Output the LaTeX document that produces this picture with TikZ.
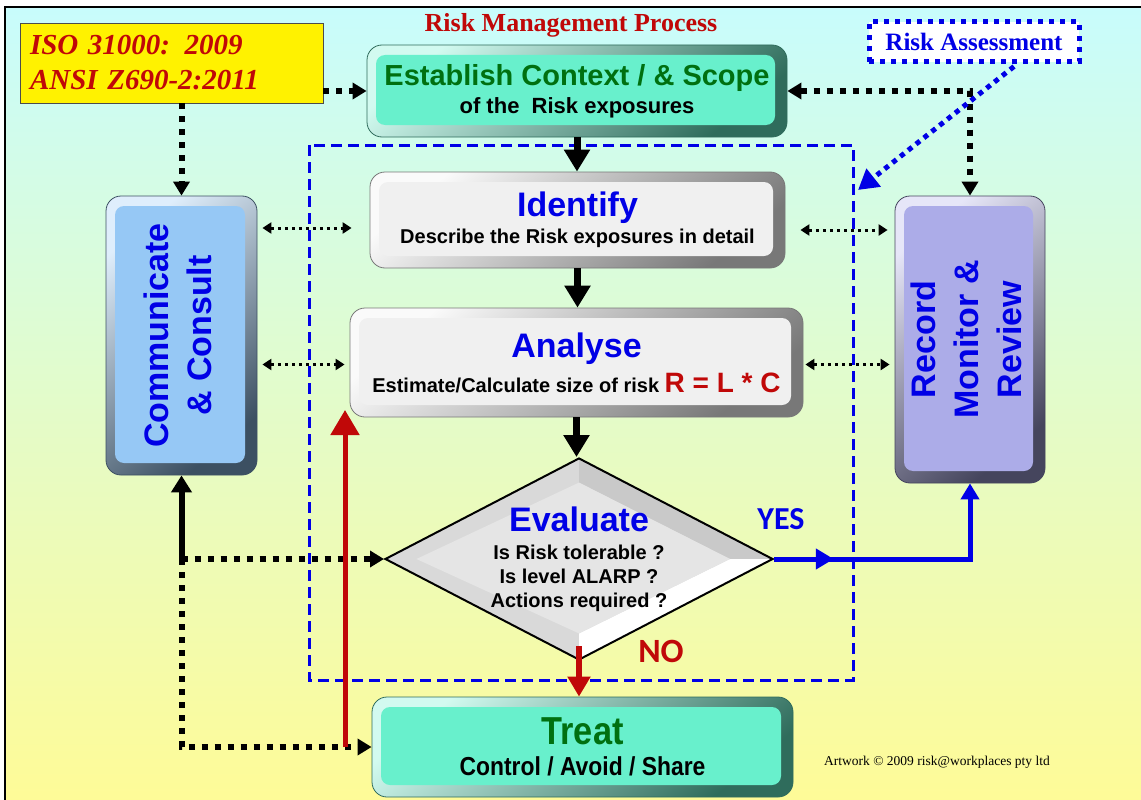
\documentclass[tikz,border=0pt]{standalone}
\usepackage{fontspec}
\setmainfont{Liberation Serif}
\setsansfont{Liberation Sans}
\newfontfamily\narrowsans[FakeStretch=0.88]{Liberation Sans}
\newfontfamily\calibrisans{Carlito}
\usetikzlibrary{shapes.geometric,arrows.meta,calc,decorations.markings}

\definecolor{bgcyan}{RGB}{200,252,252}
\definecolor{bgyellow}{RGB}{255,251,150}
\definecolor{riskred}{RGB}{192,8,8}
\definecolor{riskgreen}{RGB}{0,112,16}
\definecolor{riskblue}{RGB}{0,0,230}
\definecolor{tealface}{RGB}{104,240,204}
\definecolor{commface}{RGB}{150,200,245}
\definecolor{recface}{RGB}{172,172,232}
\definecolor{silverface}{RGB}{240,240,240}
\definecolor{silverrim}{RGB}{120,120,120}

\tikzset{
  bigtip/.tip={Triangle[width=16pt,length=14pt]},
  tinytip/.tip={Triangle[width=11pt,length=9pt]},
}

\begin{document}
\begin{tikzpicture}[x=1pt,y=-1pt,
    panel/.style 2 args={rounded corners=15pt, draw=#2, line width=0.8pt,
      top color=#1!30!white, bottom color=#2, shading angle=40,
      inner sep=0pt, align=center,
      path picture={\fill[#1, rounded corners=9pt]
        ([shift={(9pt,-10pt)}]path picture bounding box.north west) rectangle
        ([shift={(-12pt,12pt)}]path picture bounding box.south east);}},
    isobox/.style={draw=black!70, fill=yellow, minimum width=303pt, minimum height=80pt,
      text width=283pt, align=left, inner sep=0pt, text=riskred,
      font=\bfseries\itshape\fontsize{29}{35}\selectfont},
    evalbox/.style={diamond, aspect=1.92, draw=black, line width=2pt, fill=gray!30,
      minimum width=388pt, minimum height=202pt, inner sep=0pt, align=center,
      path picture={
        \coordinate (pn) at ($(path picture bounding box.center)!0.76!(path picture bounding box.north)$);
        \coordinate (pe) at ($(path picture bounding box.center)!0.78!(path picture bounding box.east)$);
        \coordinate (ps) at ($(path picture bounding box.center)!0.74!(path picture bounding box.south)$);
        \coordinate (pw) at ($(path picture bounding box.center)!0.84!(path picture bounding box.west)$);
        \fill[gray!42] (path picture bounding box.north) -- (path picture bounding box.east) -- (pe) -- (pn) -- cycle;
        \fill[white] (path picture bounding box.east) -- (path picture bounding box.south) -- (ps) -- (pe) -- cycle;
        \fill[gray!20] (pn) -- (pe) -- (ps) -- (pw) -- cycle;}},
    flow/.style={line width=7pt, -{Triangle[width=25pt,length=22pt]}},
    bigdots/.style={line width=6pt, dash pattern=on 6pt off 7pt, -bigtip},
    smalldots/.style={line width=3pt, dash pattern=on 3pt off 4pt, tinytip-tinytip},
    noflow/.style={draw=riskred, line width=6pt, -{Triangle[width=22pt,length=20pt]}},
    redflow/.style={draw=riskred, line width=5pt, -{Triangle[width=28pt,length=25pt]}},
    yesflow/.style={draw=riskblue, line width=5pt, -{Triangle[width=18pt,length=16pt]},
      postaction={decorate}, decoration={markings,
        mark=at position 0.22 with {\arrow[riskblue]{Triangle[width=20pt,length=18pt]}}}},
    assessarrow/.style={draw=riskblue, line width=5pt, dash pattern=on 5pt off 5pt,
      -{Triangle[width=22pt,length=20pt]}},
    zone/.style={draw=riskblue, line width=3pt, dash pattern=on 11pt off 6pt},
]
\useasboundingbox (0,0) rectangle (1141,800);
\shadedraw[top color=bgcyan, bottom color=bgyellow, draw=black, line width=2pt] (5,7) rectangle (1150,810);

% risk assessment frame
\draw[zone] (309,145) rectangle (853,680);

\node[isobox] (iso) at (171.5,63) {ISO 31000: 2009\\ANSI Z690-2:2011};
\node[text=riskred, font=\bfseries\fontsize{26}{30}\selectfont] (title) at (571,25) {Risk Management Process};
\node[draw=riskblue, fill=white, line width=5pt, dash pattern=on 5pt off 6pt,
      minimum width=210pt, minimum height=40pt, text=riskblue,
      font=\bfseries\fontsize{25}{28}\selectfont] (assess) at (974,42) {Risk Assessment};

\node[panel={tealface}{tealface!45!black}, minimum width=420pt, minimum height=92pt,
      font=\sffamily\bfseries\fontsize{22}{28}\selectfont] (ctx) at (577,91)
  {{\color{riskgreen}\fontsize{29}{29}\selectfont Establish Context / \& Scope}\\of the\ \ Risk exposures};
\node[panel={silverface}{silverrim}, minimum width=415pt, minimum height=96pt,
      font=\sffamily\bfseries\fontsize{20}{27}\selectfont] (ident) at (577.5,220)
  {{\color{riskblue}\fontsize{34}{34}\selectfont Identify}\\Describe the Risk exposures in detail};
\node[panel={silverface}{silverrim}, minimum width=453pt, minimum height=109pt,
      font=\sffamily\bfseries\fontsize{20}{35}\selectfont] (anal) at (576.5,362.5)
  {{\color{riskblue}\fontsize{34}{34}\selectfont Analyse}\\Estimate/Calculate size of risk {\color{riskred}\fontsize{28}{28}\selectfont R = L * C}};
\node[evalbox, font=\sffamily\bfseries\fontsize{20}{24}\selectfont] (eval) at (579,559)
  {{\color{riskblue}\fontsize{34}{34}\selectfont Evaluate}\\[4pt]Is Risk tolerable ?\\Is level ALARP ?\\Actions required ?};
\node[panel={tealface}{tealface!45!black}, minimum width=421pt, minimum height=100pt,
      font=\narrowsans\bfseries\fontsize{26}{31}\selectfont] (treat) at (582.5,747)
  {{\color{riskgreen}\fontsize{39}{39}\selectfont Treat}\\Control / Avoid / Share};
\node[panel={commface}{commface!40!black}, minimum width=151pt, minimum height=279pt,
      text=riskblue, font=\sffamily\bfseries\fontsize{34}{43}\selectfont] (comm) at (181.5,335.5)
  {\rotatebox{90}{\begin{tabular}{@{}c@{}}Communicate\\\& Consult\end{tabular}}};
\node[panel={recface}{recface!40!black}, minimum width=150pt, minimum height=287pt,
      text=riskblue, font=\sffamily\bfseries\fontsize{34}{43}\selectfont] (rec) at (970,339.5)
  {\rotatebox{90}{\begin{tabular}{@{}c@{}}Record\\Monitor \&\\Review\end{tabular}}};
\node[font=\fontsize{13.5}{16}\selectfont] (art) at (937,762) {Artwork \textcopyright\ 2009 risk@workplaces pty ltd};

% main flow
\draw[flow] (ctx.south) -- (ctx.south |- ident.north);
\draw[flow] (ident.south) -- (ident.south |- anal.north);
\draw[flow] (anal.south) -- (anal.south |- eval.north);
\draw[noflow] ([yshift=15pt]eval.south) -- (eval.south |- treat.north);
\node[text=riskred, font=\calibrisans\bfseries\fontsize{34}{34}\selectfont] (no) at (661,651) {NO};
\draw[yesflow] (eval.east) -- (rec.south |- eval.east) -- (rec.south);
\node[text=riskblue, font=\calibrisans\bfseries\fontsize{32}{32}\selectfont] (yes) at (781,519) {YES};

% dotted links
\draw[bigdots] (iso.east |- ctx.west) -- (ctx.west);
\draw[bigdots] (comm.north |- iso.south) -- (comm.north);
\draw[bigdots, bigtip-bigtip] (ctx.east) -- (rec.north |- ctx.east) -- (rec.north);
\draw[line width=6pt, -{Triangle[width=20pt,length=17pt]}] (comm.south |- eval.west) -- (comm.south);
\draw[bigdots] (comm.south |- eval.west) -- (eval.west);
\draw[bigdots] (comm.south |- eval.west) -- (comm.south |- treat.west) -- (treat.west);
\draw[smalldots, shorten <=5pt, shorten >=18pt] ($(comm.east |- ident.west)+(0,8)$) -- ($(ident.west)+(0,8)$);
\draw[smalldots, shorten <=5pt, shorten >=5pt] ($(comm.east |- anal.west)+(0,2)$) -- ($(anal.west)+(0,2)$);
\draw[smalldots, shorten <=15pt, shorten >=7pt] ($(ident.east)+(0,10)$) -- ($(rec.west |- ident.east)+(0,10)$);
\draw[smalldots, shorten <=2pt, shorten >=5pt] ($(anal.east)+(0,2)$) -- ($(rec.west |- anal.east)+(0,2)$);

% back to analysis
\coordinate (redtip) at (345,410);
\draw[redflow] (redtip |- treat.west) -- (redtip);

\coordinate (zonetip) at (858,190);
\draw[assessarrow] ($(assess.south)+(40,2)$) -- (zonetip);
\end{tikzpicture}
\end{document}
